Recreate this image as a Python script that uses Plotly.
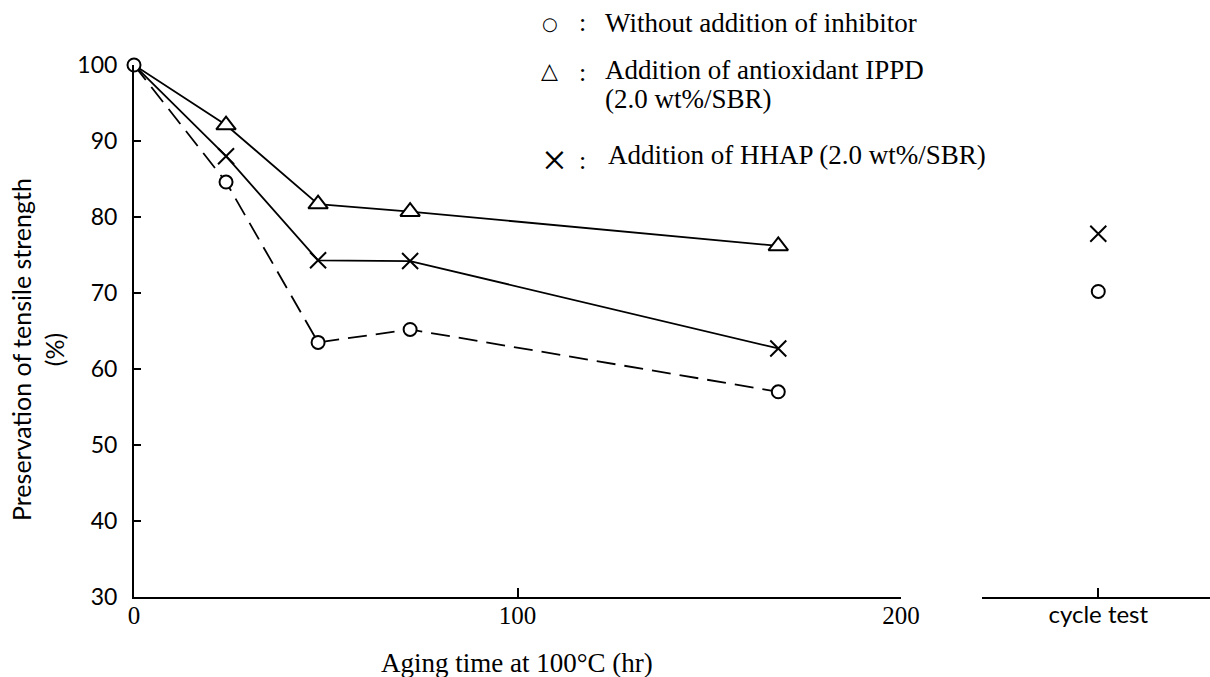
import plotly.graph_objects as go

# ---------------- data ----------------
hours = [0, 24, 48, 72, 168]
no_inhibitor = [100, 84.6, 63.5, 65.2, 57.0]
ippd = [100, 92.1, 81.7, 80.7, 76.2]
hhap = [100, 88.0, 74.3, 74.2, 62.7]

cycle_category = ["cycle test"]
cycle_no_inhibitor = [70.2]
cycle_hhap = [77.8]

y_tick_values = [30, 40, 50, 60, 70, 80, 90, 100]
x_tick_values = [0, 100, 200]

legend_labels = [
    "Without addition of inhibitor",
    "Addition of antioxidant IPPD",
    "(2.0 wt%/SBR)",
    "Addition of HHAP (2.0 wt%/SBR)",
]
x_title = "Aging time at 100°C (hr)"
y_title = "Preservation of tensile strength<br>(%)"

# ---------------- styles ----------------
SERIF = "Liberation Serif, Times New Roman, serif"
SANS = "Lato, Noto Sans, sans-serif"
BLACK = "#000000"
LW = 1.8

fig = go.Figure()

# lines
fig.add_trace(go.Scatter(x=hours, y=ippd, mode="lines",
                         line=dict(color=BLACK, width=LW), cliponaxis=False,
                         showlegend=False, hoverinfo="skip"))
fig.add_trace(go.Scatter(x=hours, y=hhap, mode="lines",
                         line=dict(color=BLACK, width=LW), cliponaxis=False,
                         showlegend=False, hoverinfo="skip"))
fig.add_trace(go.Scatter(x=hours, y=no_inhibitor, mode="lines",
                         line=dict(color=BLACK, width=LW, dash="19px,9px"),
                         cliponaxis=False, showlegend=False, hoverinfo="skip"))

# markers
fig.add_trace(go.Scatter(x=hours[1:], y=ippd[1:], mode="markers",
                         marker=dict(symbol="triangle-up", size=17, color="white",
                                     line=dict(color=BLACK, width=2)),
                         cliponaxis=False, showlegend=False))
fig.add_trace(go.Scatter(x=hours[1:], y=hhap[1:], mode="markers",
                         marker=dict(symbol="x-thin", size=16, color=BLACK,
                                     line=dict(color=BLACK, width=2)),
                         cliponaxis=False, showlegend=False))
fig.add_trace(go.Scatter(x=hours, y=no_inhibitor, mode="markers",
                         marker=dict(symbol="circle", size=13, color="white",
                                     line=dict(color=BLACK, width=2)),
                         cliponaxis=False, showlegend=False))

# cycle test panel
fig.add_trace(go.Scatter(x=cycle_category, y=cycle_hhap, mode="markers",
                         xaxis="x2", yaxis="y",
                         marker=dict(symbol="x-thin", size=16, color=BLACK,
                                     line=dict(color=BLACK, width=2)),
                         cliponaxis=False, showlegend=False))
fig.add_trace(go.Scatter(x=cycle_category, y=cycle_no_inhibitor, mode="markers",
                         xaxis="x2", yaxis="y",
                         marker=dict(symbol="circle", size=13, color="white",
                                     line=dict(color=BLACK, width=2)),
                         cliponaxis=False, showlegend=False))

W, H = 1210, 677
ML, MR, MT, MB = 134, 0, 65, 80
PW, PH = W - ML - MR, H - MT - MB


def px_x(px):
    return (px - ML) / PW


def px_y(py):
    return (H - MB - py) / PH


fig.update_layout(
    width=W, height=H,
    margin=dict(l=ML, r=MR, t=MT, b=MB, pad=0, autoexpand=False),
    paper_bgcolor="white", plot_bgcolor="white",
    showlegend=False,
    xaxis=dict(domain=[0, px_x(901)], range=[0, 200], anchor="y", automargin=False,
               showline=True, linecolor=BLACK, linewidth=2,
               ticks="inside", ticklen=9, tickwidth=1.6, tickcolor=BLACK,
               tickvals=x_tick_values, showgrid=False, zeroline=False,
               tickfont=dict(family=SERIF, size=25, color=BLACK),
               ticklabelstandoff=-5),
    xaxis2=dict(domain=[px_x(982), 1], type="category", range=[-0.51, 0.49],
                anchor="y", automargin=False, showline=True, linecolor=BLACK, linewidth=2,
                ticks="inside", ticklen=9, tickwidth=1.6, tickcolor=BLACK,
                showgrid=False, zeroline=False,
                tickfont=dict(family=SANS, size=24, color=BLACK),
                ticklabelstandoff=-5),
    yaxis=dict(range=[30, 100], automargin=False, showline=True, linecolor=BLACK, linewidth=2,
               ticks="inside", ticklen=7, tickwidth=1.6, tickcolor=BLACK,
               tickvals=y_tick_values, showgrid=False, zeroline=False,
               tickfont=dict(family=SANS, size=23, color=BLACK),
               ticklabelstandoff=10),
)

annotations = []
# axis titles
annotations.append(dict(text=x_title, xref="paper", yref="paper",
                        x=px_x(517), y=px_y(663), xanchor="center", yanchor="middle",
                        showarrow=False, font=dict(family=SERIF, size=27, color=BLACK)))
annotations.append(dict(text=y_title, xref="paper", yref="paper",
                        x=px_x(37), y=px_y(350), xanchor="center", yanchor="middle",
                        textangle=-90, showarrow=False,
                        font=dict(family=SANS, size=25, color=BLACK)))

# legend (text)
legend_rows = [(603, 23), (603, 70), (603, 99), (606, 155)]
for label, (lx, ly) in zip(legend_labels, legend_rows):
    annotations.append(dict(text=label, xref="paper", yref="paper",
                            x=px_x(lx), y=px_y(ly), xanchor="left", yanchor="middle",
                            showarrow=False, font=dict(family=SERIF, size=27, color=BLACK)))
# legend symbols and colons
legend_symbols = [("○", 550, 24, "DejaVu Sans", 18),
                  ("△", 549, 70, "DejaVu Sans", 22),
                  ("×", 554, 160, SERIF, 44)]
for sym, sx, sy, fam, fs in legend_symbols:
    annotations.append(dict(text=sym, xref="paper", yref="paper",
                            x=px_x(sx), y=px_y(sy), xanchor="center", yanchor="middle",
                            showarrow=False, font=dict(family=fam, size=fs, color=BLACK)))
for cy in [23, 72, 160]:
    annotations.append(dict(text=":", xref="paper", yref="paper",
                            x=px_x(582), y=px_y(cy), xanchor="center", yanchor="middle",
                            showarrow=False, font=dict(family=SERIF, size=26, color=BLACK)))

fig.update_layout(annotations=annotations)

fig.write_html("out.html")
